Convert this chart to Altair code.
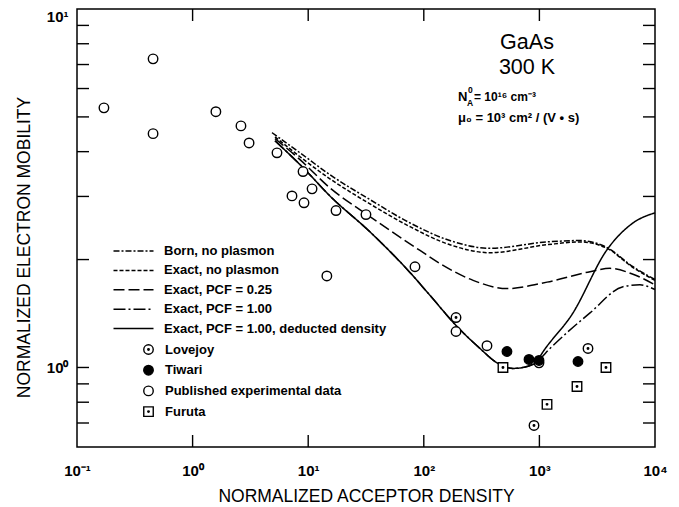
import altair as alt
import pandas as pd

# ---------------- data ----------------
curve_names = ["Born, no plasmon", "Exact, no plasmon", "Exact, PCF = 0.25",
               "Exact, PCF = 1.00", "Exact, PCF = 1.00, deducted density"]

born_x = [4.86, 8.49, 15.4, 34.2, 76.0, 168, 374, 1164, 2244, 3844, 6452, 10000]
born_y = [4.52, 3.97, 3.45, 2.94, 2.53, 2.26, 2.15, 2.24, 2.26, 2.16, 1.91, 1.76]

exact_x = [5.16, 15.4, 34.2, 76.0, 168, 374, 1164, 2244, 3844, 6452, 10000]
exact_y = [4.40, 3.36, 2.86, 2.47, 2.20, 2.09, 2.20, 2.24, 2.15, 1.90, 1.75]

pcf025_x = [5.16, 8.49, 15.4, 32.3, 92.7, 138, 267, 524, 1164, 2740, 4082, 6452, 10000]
pcf025_y = [4.35, 3.80, 3.17, 2.67, 2.12, 1.95, 1.75, 1.66, 1.73, 1.85, 1.89, 1.82, 1.70]

pcf100_x = [5.16, 9.02, 15.4, 34.2, 71.5, 113, 190, 306, 430, 591, 781, 953,
            1235, 2740, 5287, 7413, 10000]
pcf100_y = [4.29, 3.61, 3.01, 2.39, 1.88, 1.59, 1.31, 1.13, 1.03, 0.994, 1.006, 1.039,
            1.13, 1.42, 1.68, 1.70, 1.65]

deduct_x = [5.16, 9.02, 15.4, 34.2, 71.5, 113, 190, 306, 430, 591, 781, 953,
            1012, 1953, 3844, 6452, 10000]
deduct_y = [4.29, 3.61, 3.01, 2.39, 1.88, 1.59, 1.31, 1.13, 1.03, 0.994, 1.006, 1.039,
            1.073, 1.42, 2.13, 2.53, 2.70]

point_names = ["Lovejoy", "Tiwari", "Published experimental data", "Furuta"]

published_x = [0.171, 0.455, 0.455, 1.59, 2.62, 3.08, 5.37, 9.02, 10.8, 7.24, 9.20,
               17.4, 31.6, 83.9, 14.5, 190, 352, 992]
published_y = [5.30, 7.26, 4.49, 5.17, 4.72, 4.23, 3.97, 3.52, 3.15, 3.01, 2.88,
               2.74, 2.67, 1.91, 1.80, 1.26, 1.15, 1.03]
lovejoy_x = [190, 898, 2633]
lovejoy_y = [1.378, 0.689, 1.13]
tiwari_x = [524, 813, 992, 2157]
tiwari_y = [1.108, 1.053, 1.046, 1.039]
furuta_x = [484, 1164, 2115, 3767]
furuta_y = [1.0, 0.789, 0.885, 1.0]

x_decades = [0.1, 1, 10, 100, 1000, 10000]
x_tick_values = [1, 10, 100, 1000]
y_label_values = [1, 10]
y_tick_values = [0.7, 0.8, 0.9, 1, 2, 3, 4, 5, 6, 7, 8, 9]

# ---------------- tables ----------------
curve_data = [[born_x, born_y], [exact_x, exact_y], [pcf025_x, pcf025_y],
              [pcf100_x, pcf100_y], [deduct_x, deduct_y]]
line_rows = []
for name, (cx, cy) in zip(curve_names, curve_data):
    for a, b in zip(cx, cy):
        line_rows.append({"curve": name, "x": a, "y": b})
line_df = pd.DataFrame(line_rows)

pt_rows = []
for name, px, py in [("Published experimental data", published_x, published_y),
                     ("Lovejoy", lovejoy_x, lovejoy_y),
                     ("Furuta", furuta_x, furuta_y),
                     ("Tiwari", tiwari_x, tiwari_y)]:
    for a, b in zip(px, py):
        pt_rows.append({"dataset": name, "x": a, "y": b})
pt_df = pd.DataFrame(pt_rows)

xtick_df = pd.DataFrame({"x": x_tick_values})
ytick_df = pd.DataFrame({"y": y_tick_values})

# ---------------- styling ----------------
FONT = "Liberation Sans"
W, H = 578, 438
TICK = 12

dash_list = [[6, 2, 2, 2], [4, 2], [11, 4], [12, 3, 2, 3], [1, 0]]
lovejoy_path = ("M-1,0A1,1,0,1,1,1,0A1,1,0,1,1,-1,0Z "
                "M-0.16,0A0.16,0.16,0,1,1,0.16,0A0.16,0.16,0,1,1,-0.16,0Z")
furuta_path = ("M-1,-1L1,-1L1,1L-1,1Z "
               "M-0.16,0A0.16,0.16,0,1,1,0.16,0A0.16,0.16,0,1,1,-0.16,0Z")
shape_range = [lovejoy_path, "circle", "circle", furuta_path]
fill_range = ["white", "black", "white", "white"]
stroke_range = ["black", "black", "black", "black"]

xs = alt.Scale(type="log", domain=[0.1, 10000], nice=False)
ys = alt.Scale(type="log", domain=[0.6, 10], nice=False)

x_label_expr = ("datum.value < 0.5 ? '10\u207b\u00b9' : datum.value < 5 ? '10\u2070' : "
                "datum.value < 50 ? '10\u00b9' : datum.value < 500 ? '10\u00b2' : "
                "datum.value < 5000 ? '10\u00b3' : '10\u2074'")
y_label_expr = "datum.value > 5 ? '10\u00b9' : '10\u2070'"

x_main_axis = alt.Axis(
    orient="bottom", values=x_decades, labelExpr=x_label_expr,
    ticks=False, tickSize=0, domain=False, grid=False,
    labelFlush=False, labelOverlap=False, labelFont=FONT, labelFontSize=15,
    labelFontWeight="bold", labelColor="black", labelPadding=23, labelBaseline="middle",
    title="NORMALIZED ACCEPTOR DENSITY", titleFont=FONT, titleFontSize=17.5,
    titleFontWeight="normal", titleColor="black", titleY=49, titleBaseline="middle")

y_main_axis = alt.Axis(
    orient="left", values=y_label_values, labelExpr=y_label_expr,
    ticks=False, tickSize=0, domain=False, grid=False,
    labelFlush=True, labelOverlap=False, labelFont=FONT, labelFontSize=15,
    labelFontWeight="bold", labelColor="black", labelPadding=9,
    title="NORMALIZED ELECTRON MOBILITY", titleFont=FONT, titleFontSize=17.5,
    titleFontWeight="normal", titleColor="black", titleX=-53, titleY=238,
    titleBaseline="middle", titleAngle=270)

line_legend = alt.Legend(
    title=None, orient="none", legendX=50, legendY=235.5, padding=0,
    symbolType="M-4,0L4,0", symbolSize=100, symbolStrokeWidth=1.5,
    symbolStrokeColor="black", symbolFillColor="transparent",
    labelFont=FONT, labelFontSize=13, labelFontWeight="bold", labelColor="black",
    labelOffset=24, labelLimit=400, rowPadding=5.4)

point_legend = alt.Legend(
    title=None, orient="none", legendX=65, legendY=334, padding=0,
    symbolSize=90, symbolStrokeWidth=1.4,
    labelFont=FONT, labelFontSize=13, labelFontWeight="bold", labelColor="black",
    labelOffset=10, labelLimit=400, rowPadding=3.7)

lines = alt.Chart(line_df).mark_line(
    stroke="black", strokeWidth=1.5, interpolate="monotone"
).encode(
    x=alt.X("x:Q", scale=xs, axis=x_main_axis),
    y=alt.Y("y:Q", scale=ys, axis=y_main_axis),
    strokeDash=alt.StrokeDash("curve:N", scale=alt.Scale(domain=curve_names, range=dash_list),
                              legend=line_legend),
)

points = alt.Chart(pt_df).mark_point(
    size=90, strokeWidth=1.4, opacity=1, fillOpacity=1, strokeOpacity=1
).encode(
    x=alt.X("x:Q", scale=xs, axis=None),
    y=alt.Y("y:Q", scale=ys, axis=None),
    shape=alt.Shape("dataset:N", scale=alt.Scale(domain=point_names, range=shape_range),
                    legend=point_legend),
    fill=alt.Fill("dataset:N", scale=alt.Scale(domain=point_names, range=fill_range),
                  legend=point_legend),
    stroke=alt.Stroke("dataset:N", scale=alt.Scale(domain=point_names, range=stroke_range),
                      legend=point_legend),
)

tick_style = dict(stroke="black", strokeWidth=1.4)
ticks_bottom = alt.Chart(xtick_df).mark_rule(**tick_style).encode(
    x=alt.X("x:Q", scale=xs, axis=None), y=alt.value(H - TICK), y2=alt.value(H))
ticks_top = alt.Chart(xtick_df).mark_rule(**tick_style).encode(
    x=alt.X("x:Q", scale=xs, axis=None), y=alt.value(0), y2=alt.value(TICK))
ticks_left = alt.Chart(ytick_df).mark_rule(**tick_style).encode(
    y=alt.Y("y:Q", scale=ys, axis=None), x=alt.value(0), x2=alt.value(TICK))
ticks_right = alt.Chart(ytick_df).mark_rule(**tick_style).encode(
    y=alt.Y("y:Q", scale=ys, axis=None), x=alt.value(W - TICK), x2=alt.value(W))

one = pd.DataFrame({"k": [0]})


def label(text, x, y, size, weight="normal", align="center"):
    return alt.Chart(one).mark_text(
        text=text, font=FONT, fontSize=size, fontWeight=weight, align=align,
        baseline="middle", color="black"
    ).encode(x=alt.value(x), y=alt.value(y))


texts = [
    label("GaAs", 450, 34, 21.5),
    label("300 K", 450, 59, 21.5),
    label("N", 381, 88, 13, "bold", "left"),
    label("0", 391, 81, 8.5, "bold", "left"),
    label("A", 390, 94, 8.5, "bold", "left"),
    label("= 10\u00b9\u2076 cm\u207b\u00b3", 397, 88, 12, "bold", "left"),
    label("\u03bc\u2080 = 10\u00b3 cm\u00b2 / (V \u2022 s)", 381, 109, 13, "bold", "left"),
]

chart = alt.layer(
    lines, ticks_bottom, ticks_top, ticks_left, ticks_right, points, *texts
).resolve_scale(
    x="shared", y="shared"
).resolve_axis(
    x="independent", y="independent"
).properties(
    width=W, height=H,
    autosize=alt.AutoSizeParams(type="none"),
    padding={"left": 69, "top": 1, "right": 16, "bottom": 60},
).configure_view(stroke="black", strokeWidth=1.5)

chart.save("out.html", embed_options={"renderer": "svg", "actions": False})
